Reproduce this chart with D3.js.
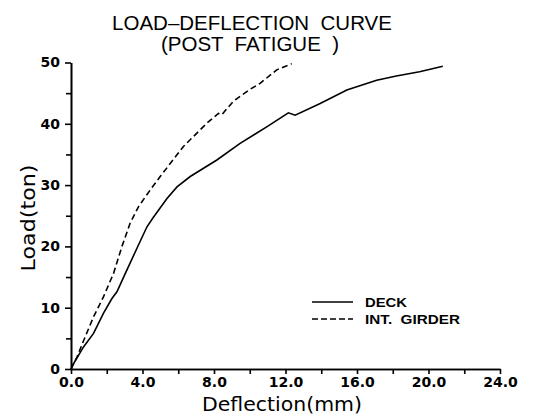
<!DOCTYPE html>
<html>
<head>
<meta charset="utf-8">
<script src="https://cdn.jsdelivr.net/npm/d3@7"></script>
<style>
  body { margin: 0; background: #fff; }
  text { fill: #000; }
</style>
</head>
<body>
<div id="chart"></div>
<script>
// values
var deckDefl = [0, 0.15, 0.7, 1.26, 1.82, 2.29, 2.57, 3.04, 3.69, 4.25, 4.62, 5.37, 5.93, 6.67, 8.16, 9.46, 10.95, 12.16, 12.54, 13.94, 15.43, 17.1, 18.2, 19.5, 20.8];
var deckLoad = [0, 0.9, 3.6, 5.8, 9.1, 11.5, 12.6, 15.6, 19.7, 23.2, 24.8, 27.8, 29.7, 31.4, 34.1, 36.8, 39.5, 41.8, 41.4, 43.3, 45.5, 47.1, 47.8, 48.5, 49.4];
var girderDefl = [0, 0.34, 0.8, 1.26, 1.82, 2.38, 2.85, 3.31, 3.78, 4.43, 4.99, 6.29, 7.6, 8.25, 8.44, 9.09, 10.0, 10.58, 11.51, 12.35];
var girderLoad = [0, 2.0, 5.3, 8.5, 11.8, 15.6, 20.0, 23.8, 26.5, 29.2, 31.4, 36.3, 40.1, 41.7, 41.5, 43.7, 45.6, 46.6, 48.8, 49.8];
var xTicks = [0, 4, 8, 12, 16, 20, 24];
var xMinor = [2, 6, 10, 14, 18, 22];
var yTicks = [0, 10, 20, 30, 40, 50];
var yMinor = [5, 15, 25, 35, 45];
var seriesNames = ["DECK", "INT.  GIRDER"];

var svg = d3.select("#chart").append("svg").attr("width", 533).attr("height", 419),
    margin = {top: 62.5, left: 71},
    width = 429,
    height = 306.5,
    g = svg.append("g").attr("transform", "translate(" + margin.left + "," + margin.top + ")");

var x = d3.scaleLinear().domain([0, 24]).range([0, width]);
var y = d3.scaleLinear().domain([0, 50]).range([height, 0]);

// axes
g.append("g")
    .attr("transform", "translate(0," + height + ")")
    .call(d3.axisBottom(x).tickValues(xTicks).tickFormat(d3.format(".1f")).tickSize(5).tickPadding(3).tickSizeOuter(0));
g.append("g")
    .attr("transform", "translate(0," + height + ")")
    .call(d3.axisBottom(x).tickValues(xMinor).tickFormat("").tickSize(5).tickSizeOuter(0));
g.append("g")
    .call(d3.axisLeft(y).tickValues(yTicks).tickSize(6).tickPadding(5).tickSizeOuter(0));
g.append("g")
    .call(d3.axisLeft(y).tickValues(yMinor).tickFormat("").tickSize(5).tickSizeOuter(0));

g.selectAll(".domain, .tick line").attr("stroke", "#000").attr("stroke-width", 1.6);
g.selectAll(".tick text")
    .attr("font-family", "DejaVu Sans")
    .attr("font-weight", "bold")
    .attr("font-size", 14);

// curves
var line = d3.line()
    .x(function(d) { return x(d[0]); })
    .y(function(d) { return y(d[1]); });

g.append("path")
    .datum(deckDefl.map(function(d, i) { return [d, deckLoad[i]]; }))
    .attr("fill", "none")
    .attr("stroke", "#000")
    .attr("stroke-width", 1.6)
    .attr("d", line);

g.append("path")
    .datum(girderDefl.map(function(d, i) { return [d, girderLoad[i]]; }))
    .attr("fill", "none")
    .attr("stroke", "#000")
    .attr("stroke-width", 1.6)
    .attr("stroke-dasharray", "6,3.5")
    .attr("d", line);

// legend
var legend = svg.append("g").attr("transform", "translate(312,302)");
[0, 1].forEach(function(i) {
  legend.append("line")
      .attr("x1", 0).attr("x2", 41)
      .attr("y1", i * 17).attr("y2", i * 17)
      .attr("stroke", "#000")
      .attr("stroke-width", 1.5)
      .attr("stroke-dasharray", i ? "6,3" : null);
  legend.append("text")
      .attr("x", 53)
      .attr("y", i * 17 + 5)
      .attr("font-family", "Liberation Sans")
      .attr("font-size", 13)
      .attr("font-weight", "bold")
      .attr("textLength", i ? 95 : 42)
      .attr("lengthAdjust", "spacingAndGlyphs")
      .style("white-space", "pre")
      .text(seriesNames[i]);
});

// titles
svg.append("text")
    .attr("x", 252).attr("y", 30)
    .attr("text-anchor", "middle")
    .attr("font-family", "Liberation Sans")
    .attr("font-size", 20.5)
    .style("white-space", "pre")
    .text("LOAD–DEFLECTION  CURVE");
svg.append("text")
    .attr("x", 250).attr("y", 51)
    .attr("text-anchor", "middle")
    .attr("font-family", "Liberation Sans")
    .attr("font-size", 20.5)
    .style("white-space", "pre")
    .text("(POST  FATIGUE  )");

svg.append("text")
    .attr("x", 282).attr("y", 411)
    .attr("text-anchor", "middle")
    .attr("font-family", "DejaVu Sans")
    .attr("font-size", 19)
    .attr("textLength", 160)
    .attr("lengthAdjust", "spacingAndGlyphs")
    .text("Deflection(mm)");

svg.append("text")
    .attr("transform", "translate(35,218) rotate(-90)")
    .attr("text-anchor", "middle")
    .attr("font-family", "DejaVu Sans")
    .attr("font-size", 19)
    .attr("textLength", 107)
    .attr("lengthAdjust", "spacingAndGlyphs")
    .text("Load(ton)");
</script>
</body>
</html>
